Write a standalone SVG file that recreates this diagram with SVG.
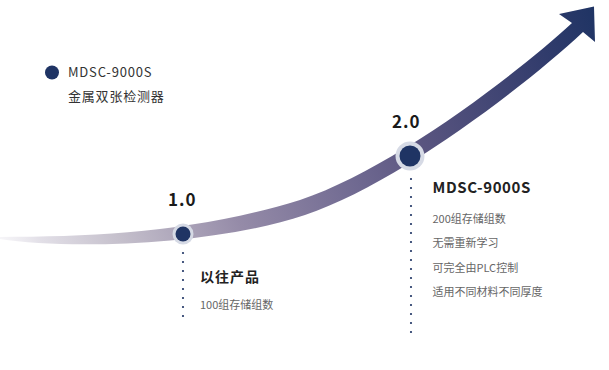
<svg xmlns="http://www.w3.org/2000/svg" width="609" height="370" viewBox="0 0 609 370">
  <defs>
    <linearGradient id="bandGrad" gradientUnits="userSpaceOnUse" x1="0" y1="240" x2="595" y2="10">
      <stop offset="0" stop-color="#e9e7ee" stop-opacity="0.4"/>
      <stop offset="0.06" stop-color="#e2dfe7"/>
      <stop offset="0.175" stop-color="#c5c0cc"/>
      <stop offset="0.36" stop-color="#958ba8"/>
      <stop offset="0.56" stop-color="#6e6890"/>
      <stop offset="0.666" stop-color="#5a5580"/>
      <stop offset="0.89" stop-color="#333d6d"/>
      <stop offset="1" stop-color="#1f3464"/>
    </linearGradient>
  </defs>
  <style>
    text { font-family: "Noto Sans CJK SC", "Noto Sans", sans-serif; }
    .ver { font-size: 17px; font-weight: 700; fill: #1a1a1a; letter-spacing: 1px; }
    .head { font-size: 15px; font-weight: 700; fill: #222; letter-spacing: 0.6px; }
    .head-cn { font-size: 14px; font-weight: 700; fill: #222; letter-spacing: 1px; }
    .item { font-size: 11px; fill: #666; }
    .legend { font-size: 13px; fill: #333; letter-spacing: 0.8px; }
    .halo { fill: #d6dae5; }
    .dot { fill: #1f3464; }
    .dotted { stroke: #1f3464; stroke-width: 2.2; stroke-dasharray: 0 9; stroke-linecap: round; fill: none; }
  </style>

  <g id="connectors">
    <path id="growth-arrow" fill="url(#bandGrad)"
      d="M0,237 C100,237 200,231 300,200 C390,170 512,78 572,23 L559,14 L594,6.5 L595,42 L583,32 C523,88 395,185 305,215 C215,245 70,250 0,239 Z"/>
    <line class="dotted" x1="183" y1="253" x2="183" y2="325"/>
    <line class="dotted" x1="411" y1="179" x2="411" y2="340"/>
  </g>

  <g id="legend">
    <circle class="dot" cx="52" cy="72.5" r="7"/>
    <text class="legend" x="68" y="77">MDSC-9000S</text>
    <text class="legend" x="68" y="100.5">金属双张检测器</text>
  </g>

  <g id="node-1">
    <circle class="halo" cx="183" cy="234" r="10.5"/>
    <circle class="dot" cx="183" cy="234" r="7.5"/>
    <text class="ver" x="168" y="206">1.0</text>
    <text class="head-cn" x="200" y="282">以往产品</text>
    <text class="item" x="200" y="309">100组存储组数</text>
  </g>

  <g id="node-2">
    <circle class="halo" cx="410" cy="156" r="14.5"/>
    <circle class="dot" cx="410" cy="156" r="10.5"/>
    <text class="ver" x="392" y="127.5">2.0</text>
    <text class="head" x="432.5" y="193">MDSC-9000S</text>
    <text class="item" x="432.5" y="223">200组存储组数</text>
    <text class="item" x="432.5" y="247">无需重新学习</text>
    <text class="item" x="432.5" y="271.5">可完全由PLC控制</text>
    <text class="item" x="432.5" y="295.5">适用不同材料不同厚度</text>
  </g>
</svg>
